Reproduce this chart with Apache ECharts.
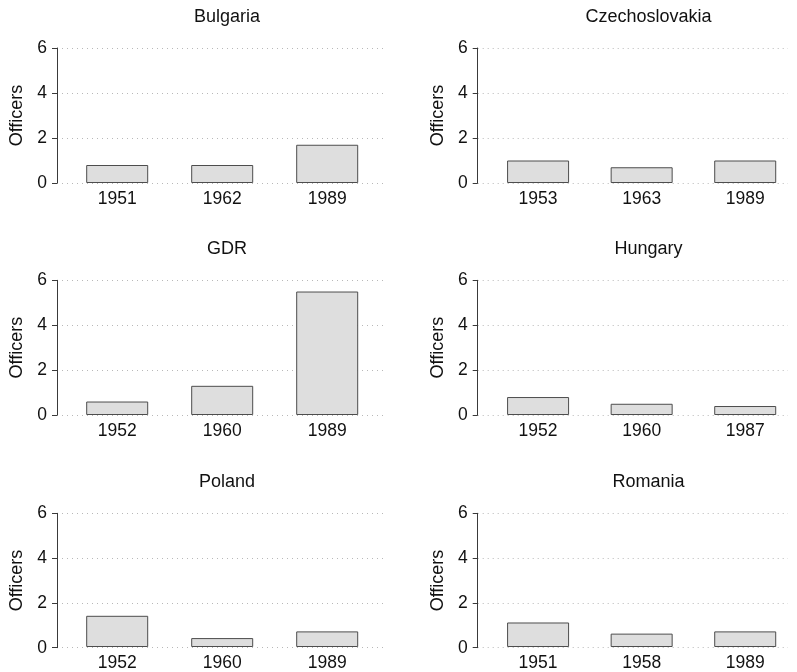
<!DOCTYPE html>
<html>
<head>
<meta charset="utf-8">
<script src="https://cdn.jsdelivr.net/npm/echarts@6/dist/echarts.min.js"></script>
<style>html,body{margin:0;padding:0;background:#fff;}#c{width:797px;height:672px;}</style>
</head>
<body>
<div id="c"></div>
<script>
// ---- data ----
const countries = ['Bulgaria', 'Czechoslovakia', 'GDR', 'Hungary', 'Poland', 'Romania'];
const bulgariaYears = ['1951', '1962', '1989'];
const bulgariaOfficers = [0.8, 0.8, 1.7];
const czechoslovakiaYears = ['1953', '1963', '1989'];
const czechoslovakiaOfficers = [1.0, 0.7, 1.0];
const gdrYears = ['1952', '1960', '1989'];
const gdrOfficers = [0.6, 1.3, 5.5];
const hungaryYears = ['1952', '1960', '1987'];
const hungaryOfficers = [0.8, 0.5, 0.4];
const polandYears = ['1952', '1960', '1989'];
const polandOfficers = [1.4, 0.4, 0.7];
const romaniaYears = ['1951', '1958', '1989'];
const romaniaOfficers = [1.1, 0.6, 0.7];
const yTicks = [0, 2, 4, 6];
const yName = 'Officers';

const panelYears = [bulgariaYears, czechoslovakiaYears, gdrYears, hungaryYears, polandYears, romaniaYears];
const panelValues = [bulgariaOfficers, czechoslovakiaOfficers, gdrOfficers, hungaryOfficers, polandOfficers, romaniaOfficers];

// ---- layout ----
const rowTop = [48, 280.3, 513.3];
const rowH = [135, 134.7, 134.4];
const axisLeft = [57, 477.7];
const axisWidth = [326, 310.3];
const barLeft = [64.7, 486.3];
const barWidthGrid = 315;
const titleX = [222, 643.5];
const FONT = '"Liberation Sans", Arial, sans-serif';
const TXT = '#111111';

const grid = [], xAxis = [], yAxis = [], series = [], title = [];
countries.forEach((name, i) => {
  const r = Math.floor(i / 2), c = i % 2;
  grid.push({ left: axisLeft[c], top: rowTop[r], width: axisWidth[c], height: rowH[r], containLabel: false });
  grid.push({ left: barLeft[c], top: rowTop[r], width: barWidthGrid, height: rowH[r], containLabel: false });
  const ga = 2 * i, gb = 2 * i + 1;
  xAxis.push({ gridIndex: ga, type: 'value', min: 0, max: 1, show: false });
  yAxis.push({
    gridIndex: ga, type: 'value', min: yTicks[0], max: yTicks[yTicks.length - 1], interval: 2,
    name: yName, nameLocation: 'middle', nameGap: 31, nameRotate: 90,
    nameTextStyle: { fontFamily: FONT, fontSize: 18, color: TXT },
    axisLine: { show: true, lineStyle: { color: '#3a3a3a', width: 1 } },
    axisTick: { show: true, length: 5, lineStyle: { color: '#3a3a3a' } },
    axisLabel: { margin: 10, fontFamily: FONT, fontSize: 17.5, color: TXT },
    splitLine: { show: true, lineStyle: { color: '#b8b8b8', type: [1, 4], width: 1 } }
  });
  xAxis.push({
    gridIndex: gb, type: 'category', data: panelYears[i],
    axisLine: { show: false }, axisTick: { show: false },
    axisLabel: { margin: 7, fontFamily: FONT, fontSize: 17.5, color: TXT, interval: 0 }
  });
  yAxis.push({ gridIndex: gb, type: 'value', min: 0, max: 6, interval: 2, show: false });
  series.push({
    type: 'bar', xAxisIndex: gb, yAxisIndex: gb,
    data: panelValues[i], barWidth: 62,
    itemStyle: { color: '#dedede', borderColor: '#4d4d4d', borderWidth: 1 },
    silent: true, animation: false
  });
  title.push({
    text: name, left: titleX[c], top: rowTop[r] - 45, textAlign: 'center',
    textStyle: { fontFamily: FONT, fontSize: 18, fontWeight: 'normal', color: TXT }
  });
});

const chart = echarts.init(document.getElementById('c'), null, { renderer: 'canvas' });
chart.setOption({ animation: false, backgroundColor: '#ffffff', title, grid, xAxis, yAxis, series });
</script>
</body>
</html>
